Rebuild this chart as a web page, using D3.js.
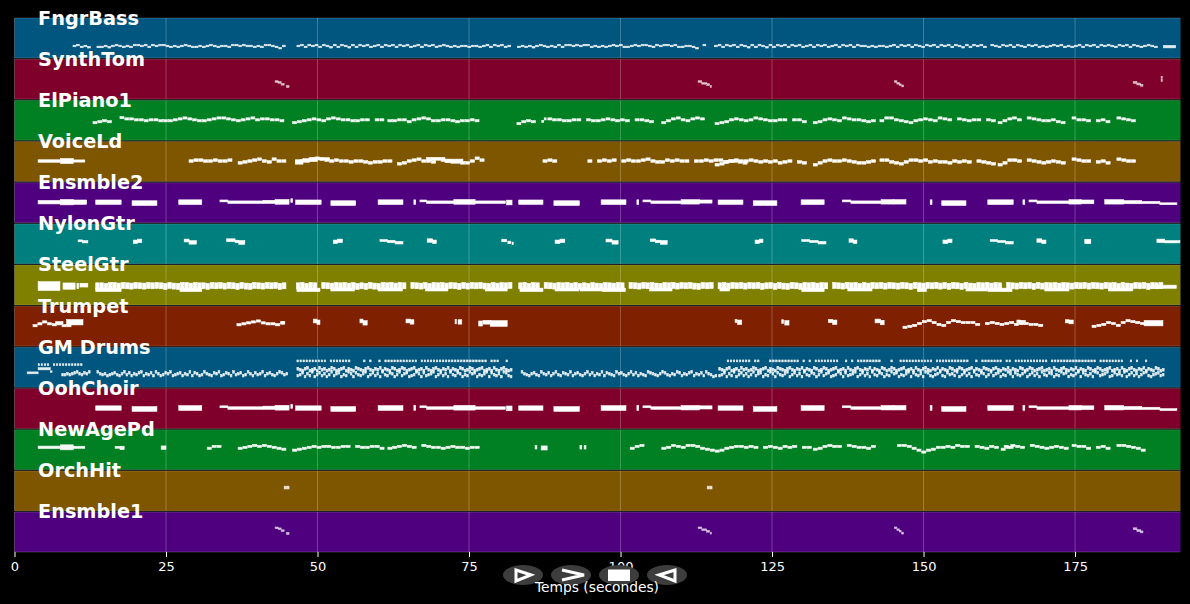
<!DOCTYPE html>
<html>
<head>
<meta charset="utf-8">
<script src="https://d3js.org/d3.v7.min.js"></script>
<style>
  html, body { margin: 0; background: #000; overflow: hidden; }
  text { font-family: "DejaVu Sans"; fill: #fff; }
</style>
</head>
<body>
<svg id="chart" width="1190" height="604"></svg>
<script>
// instrument rows, top to bottom
var trackNames = ["FngrBass", "SynthTom", "ElPiano1", "VoiceLd", "Ensmble2", "NylonGtr", "SteelGtr", "Trumpet", "GM Drums", "OohChoir", "NewAgePd", "OrchHit", "Ensmble1"];
var trackColors = ["#00567f", "#7f002a", "#007f23", "#7f5600", "#4f007f", "#007f7f", "#7f7f00", "#7f2100", "#00567f", "#7f002a", "#007f23", "#7f5600", "#4f007f"];
var trackOpacity = [0.9, 0.75, 0.95, 1, 1, 1, 1, 1, 0.9, 1, 0.95, 0.85, 0.75];
var timeTicks = [0, 25, 50, 75, 100, 125, 150, 175];
var xLabel = "Temps (secondes)";

// notes are [start, end, pitch, pitch span], runs are [start, step, pitches] (0 = rest)
var bassRuns = [
  [9.65, .6, [38,41,35,38,34]],
  [13.6, .6, [35,35,38,34,38,41,38,35,38,35,41,41,38,41,35,41,38,41,41,38,
              35,38,35,38,41,38,35,35,38,35,38,41,38,35,38,38,35,41,41,38,
              41,38,38,35,38,35,41,41,38,35,31,38]],
  [46.6, .6, [38,41,35,41,38,41,35,41,38,34,41,35,41,38,34,41,35,41,38,41,
              35,38,41,35,41,38,41,35,41,38,41,35,38,41,35,41,38,41,35,38,
              41,38,35,38,35,38,38,35,38,38,35,38,41,35,41,38,41,35,38]],
  [83, .6, [35,38,35,38,34,38,41,38,35,38,35,41,35,41,41,38,41,38,41,41,
            35,38,35,38,35,38,41,38,41,35,35,38,41,38,41,41,38,35,41,38,
            41,41,38,41,35,35,38,38,35,31,0,41]],
  [115.5, .6, [38,41,35,41,38,41,35,41,38,34,41,35,41,38,34,41,35,41,38,41,
               35,41,38,41,35,38,41,35,41,38,41,35,38,41,35,41,38,41,35,41,
               38,38,35,38,35,38,38,35,38,41,35,41,38,41,35,41,38,35,41,38,
               41,35,41,38,41,35,41,38,34,41,35,41,38,41,35,0,41,38,35,41,
               38,41,35,41,38,35,41,38,41,35,38,35,38,41,38,41,35,38,35,38,
               41,35,41,38,41,35,41,38,41,38,35,41,38,41,35,41,38,35,38,41,38,35]]
];
var bassNotes = [[189.6, 191.6, 36, 8]];

var synthTomNotes = [
  [43, 43.5, 56, 5], [43.5, 44, 53, 5], [44, 44.5, 47, 5], [44.9, 45.3, 40, 6],
  [112.8, 113.4, 56, 5], [113.4, 114.2, 50, 5], [114.2, 114.7, 46, 6], [114.8, 115, 40, 6],
  [145.2, 145.6, 56, 5], [145.6, 146, 50, 5], [146, 146.3, 46, 5], [146.4, 146.7, 42, 6],
  [184.6, 185.2, 53, 6], [185.2, 185.8, 48, 6], [185.8, 186.2, 44, 6],
  [189.2, 189.4, 69, 6], [189.2, 189.4, 59, 6]
];

var elPianoRuns = [
  [12.95, .8, [56,59,62,59]],
  [17.4, .8, [72,68,68,65,65,62,65,65,62,62,62,65,68,71,68,65,62,62,65,68,71,71,68,65,62,65,68,71,65,68,68,65,65,62]],
  [45.9, .8, [56,59,62,65,68,65,62,68,71,68,65,65,62,62,65,65,0,65,65]],
  [61.6, .8, [62,62,65,65,59,65,68,71,68,62,62,65,65,62,59,62,62,65,62]],
  [82.9, .8, [53,59,62,59]],
  [87, .4, [60,68]],
  [88, .8, [68,65,65,62,62,65,65,0,65,62,62,65,68,65,62,65,62,0,65,65,62,59]],
  [106.8, .8, [56,62,68,71,65,62,68,71,68]],
  [115.6, .8, [53,56,59,65,68,65,62,65,71,68,65,62,62,65,65,0,65,65,59]],
  [131.8, .8, [56,59,65,68,65,62,71,68,65,65,62,59,62]],
  [142.8, .8, [62,71,71,65,62,59,56,62,65,68,65,62,71,68,65,0,68,65,62,65,65,0,65,62]],
  [162.3, .8, [56,62,68,71,65,0,71,68,65,62,62,65,59,56]],
  [174.5, .8, [71,65,65,62,0,62,65,59]],
  [181.9, .8, [71,68,65,62]]
];

var voiceLeadRuns = [
  [28.8, .8, [65,68,68,65,65,68,65,65,68,0]],
  [36.9, .8, [59,62,65,68,71,65,62,71,65,65]],
  [46.4, .8, [62,65,65,71,74,71,68,65,68,65,65,62,65,65,62,59,62,62,65,65,
              0,56,59,65,68,71,65,65,62,0,68,65,62,62,59,59,65,74,68]],
  [87.2, .8, [65,68,65,0]],
  [94.6, .8, [65,0,65,68,65,68,0,65,68,65,65,68,71,65,62,62,68,65,68,65,65,0,65,65,68,65,68,68,62,65,65,62,59,0]],
  [115.6, .8, [53,56,62,65,68,65,65,68,65,62,65,62,65,59,62,65,0,62,59]],
  [131.8, .8, [53,59,65,68,65,65,68,65,62,59,59,62,65]],
  [142.8, .8, [68,68,62,59,56,62,68,68,65,68,62,65,62,62,59,65,62,65,62,0,65,62,59,56]],
  [162.3, .8, [53,59,68,68,65,0,68,65,62,59,62,65,62,59]],
  [174.5, .8, [71,68,65,65,0,62,65,59]],
  [181.9, .8, [71,68,65,65]]
];
var voiceLeadNotes = [
  [3.9, 7.6, 65, 8], [7.6, 9.7, 65, 16], [9.7, 11.6, 65, 7],
  [46.4, 47.6, 62, 14], [47.6, 50, 68, 9], [48.6, 52, 72, 7], [68, 71, 72, 9], [71, 74, 66, 10]
];

// pad bars played by both Ensmble2 and OohChoir
var padNotes = [
  [13.4, 17.6, 65, 14], [19.4, 23.5, 62, 15], [27.1, 30.9, 65, 15],
  [33.9, 35.2, 69, 6], [35.2, 41, 65, 8], [41, 43, 66, 10], [43, 45.3, 66, 15], [45.6, 45.9, 70, 12],
  [46.4, 50.6, 65, 14], [52.2, 56.3, 62, 15], [60, 64.1, 65, 15],
  [65.9, 66.2, 65, 15], [66.9, 68, 69, 6], [68, 72.5, 65, 8], [72.5, 76, 66, 15], [76, 81, 65, 8], [81.2, 82.1, 64, 15],
  [83.2, 87.2, 65, 14], [89, 93.2, 62, 15], [96.8, 100.9, 65, 15],
  [102.7, 103, 65, 15], [103.7, 105, 69, 6], [105, 110, 65, 8], [110, 113, 66, 14], [113, 115.1, 67, 10],
  [116.1, 120.2, 65, 14], [121.9, 125.8, 62, 15], [129.8, 133.6, 65, 15],
  [136.6, 138, 69, 6], [138, 143, 65, 8], [143, 145, 66, 14], [145, 147.1, 66, 14],
  [151.1, 151.4, 65, 15], [153, 157, 62, 15], [160.6, 164.8, 65, 15],
  [166.4, 166.7, 65, 15], [167.4, 168.7, 69, 6], [168.7, 174, 65, 8], [174, 176, 66, 14], [176, 178.1, 66, 12],
  [179.9, 183, 66, 14], [183, 186, 65, 10], [186, 189, 64, 7], [189, 191.8, 60, 6]
];
var ensmble2Intro = [[3.9, 7.6, 65, 11], [7.6, 9.7, 65, 17], [9.7, 11.9, 65, 14]];

var nylonNotes = [
  [10.5, 11.2, 73, 6], [11.2, 12.1, 70, 7],
  [19.6, 20.3, 70, 11], [20.3, 21, 73, 11],
  [28, 28.8, 74, 9], [28.8, 30, 68, 11],
  [35, 36.4, 75, 9], [36.4, 37, 71, 8], [37, 38, 68, 12],
  [52.6, 53.3, 70, 11], [53.3, 54.1, 73, 11],
  [60.3, 61.5, 74, 6], [61.5, 62.8, 71, 7], [62.8, 64.1, 67, 8],
  [68.1, 69, 74, 11], [69, 69.6, 70, 11],
  [80.4, 81.2, 74, 8], [81.4, 81.9, 68, 8], [82.1, 82.3, 65, 8],
  [89.2, 90, 70, 11], [90, 90.8, 73, 11],
  [97.6, 98.6, 74, 9], [98.6, 99.6, 68, 11],
  [104.9, 105.8, 75, 8], [105.8, 106.6, 71, 8], [106.6, 107.7, 68, 12],
  [122.2, 122.9, 70, 11], [122.9, 123.5, 73, 11],
  [129.9, 131.2, 74, 6], [131.2, 132.6, 71, 6], [132.6, 133.9, 67, 8],
  [137.7, 138.4, 74, 11], [138.4, 139, 70, 11],
  [153.2, 154, 70, 11], [154, 154.7, 73, 11],
  [161, 162.2, 74, 6], [162.2, 163.5, 71, 6], [163.5, 164.8, 67, 8],
  [168.7, 169.5, 74, 11], [169.5, 170.2, 70, 11],
  [176.6, 177.6, 71, 14],
  [188.5, 189.8, 73, 11], [189.8, 192.3, 70, 7]
];

var steelRuns = [
  [13.4, .7, [61,61,59,62,62,60,62,61,60,62,61,60,62,61,62,61,59,62,60,59,62,62,60,62,61,61,59,62,61,62,60,62,61,59,62,60,59,62,61,60,62,61,62,59,61,0]],
  [46.5, .7, [61,62,59,62,61,0,62,61,60,62,61,62,60,62,59,61,59,62,60,59,62,61,62,60,62,61,0,62,61,60,62,59,62,61,62,60,62,61,59,62,60,62,61,62,60,59,62,60,62,61,62]],
  [83.2, .7, [61,62,59,62,61,0,62,61,60,62,61,62,60,62,59,61,59,62,60,59,62,61,60,62,61,0,62,61,60,62,61,62,60,59,62,61,62,60,62,61,62,60,59,62,61,62]],
  [116.1, .7, [61,62,60,62,61,62,60,62,61,62,59,61,62,59,62,60,59,62,61,59,62,61,62,60,62,61,0,62,61,60,62,61,62,59,62,60,62,61,62,60,62,61,60,62,61,59,62,61,60,62,61,62,60,62,59,62,61,59,62,60,59,62,61,62,60,62,61,0,62,61,60,62,61,62,59,62,60,62,61,62,60,62,61,60,62,61,62,60,62,61,60,62,61,62,59,62,60,59,62,61,62,59,62,61,62]]
];
var steelNotes = [
  [3.9, 7.5, 60, 28], [8, 10, 60, 20], [10.3, 10.6, 60, 16], [10.8, 12.1, 63, 12],
  [13.4, 17.6, 48, 11], [27.3, 30.9, 48, 11], [46.6, 50.4, 48, 11], [52.2, 56.1, 49, 9], [60, 64, 49, 9],
  [67.8, 71.5, 49, 9], [77.7, 81.3, 49, 9], [83.4, 87.2, 48, 11], [89.2, 93.1, 49, 9], [93.3, 97.1, 49, 9],
  [97, 100.8, 48, 11], [104.8, 108.5, 49, 9], [116.4, 118, 49, 9], [129.9, 133.6, 48, 11], [137.5, 141.5, 49, 9],
  [149, 150.5, 48, 11], [157, 160.5, 49, 9], [160.6, 164.6, 48, 11], [170, 174, 49, 9], [180.5, 184.5, 49, 9],
  [187.5, 191.7, 58, 10]
];

var trumpetRuns = [
  [3.05, .8, [65,71,77,71,68,71,65,65]],
  [36.7, .8, [68,71,74,77,80,74,71,71,68,74]],
  [146.6, .8, [60,63,66,72,78,81,75,69,66,75,81,78,75,75,75,69,0,72,75,72,69,72,75,69,72,72,69,69,66]],
  [177.8, .8, [63,66,69,75,72,66,75,81,78,75,72]]
];
var trumpetNotes = [
  [6.8, 8, 74, 8], [8.6, 11.3, 76, 17],
  [44, 44.6, 74, 8],
  [49.3, 49.9, 80, 12], [49.9, 50.4, 76, 14],
  [57, 57.5, 80, 12], [57.5, 58.2, 74, 14],
  [64.6, 65.3, 80, 12], [65.3, 65.9, 77, 14],
  [72.7, 72.9, 78, 14], [73.2, 73.8, 77, 14],
  [76.6, 77.2, 72, 16], [77.3, 78.5, 76, 12], [78.5, 81.3, 72, 18],
  [118.9, 119.2, 80, 10], [119.3, 120, 76, 14],
  [126.6, 126.9, 78, 12], [127.1, 127.8, 74, 14],
  [134.3, 135, 80, 10], [135, 135.7, 76, 14],
  [142, 142.9, 80, 12], [142.9, 143.5, 75, 14],
  [165.4, 166, 78, 10], [166, 166.8, 76, 12],
  [173.4, 174, 79, 10], [174, 174.7, 77, 12],
  [186.4, 189.5, 73, 17]
];

// upper hi-hat ticks (0 = rest)
var hatRuns = [
  [3.9, .5, [72,72,72,72,0,72,72,72,72,72,72,72,72,72,72]],
  [46.6, .5, [84,84,84,84,84,84,84,84,84,84,0,84,84,84,84,84,84,84,0,0,0,0,84,0,84,0,0,84,0,84,84,84,84,84,84,84,84,84,84,84,0,84,84,84,84,84,84,84,84,84,84,84,84,84,84,84,84,84,84,84,84,84,84,0,84,84,84,0,0,84]],
  [117.6, .5, [84,84,84,84,84,84,84,84,0,84,84,0,0,0,84,84,84,84,84,84,84,84,84,84,0,84,0,84,0,84,84,84,84,84,84,84,84,0,0,84,0,84,0,84,84,84,84,84,84,84,84,0,0,0,84,0,0,84,84,84,84,84,84,84,84,84,84,84,0,84,84,84,84,84,84,84,84,84,84,84,0,0,84,0,84,84,84,84,84,84,84,0,84,84,0,84,84,84,84,84,84,84,84,84,84,84,0,84,84,84,84,84,84,84,84,84,84,84,84,84,84,84,0,84,84,84,84,84,84,84,84,0,0,84,0,84,0,0,84]]
];
var drumLowRuns = [
  [7.8, .4, [40,40,43,40,43,46,49,43,40,46,43,49]],
  [13.6, .4, [49,43,40,43,37,40,43,46,40,37,43,49,40,46,37,43,40,46,49,37,
              43,40,46,37,49,43,37,40,46,43,49,37,40,43,46,37,43,40,49,37,
              46,43,37,40,49,43,40,37,46,43,49,37,40,46,43,37,49,40,43,46,
              37,40,49,43,37,46,40,43,49,37,43,46,40,37,43,49,46,40,43]],
  [46.6, .4, [37,40,46,34,43,37,49,34,40,46,37,43,34,40,49,37,43,46,34,40,
              37,49,43,34,46,40,37,43,49,34,40,46,37,43,34,49,40,37,46,43,
              34,40,49,37,43,46,34,37,40,49,43,34,46,37,40,43,49,34,40,46,
              37,43,34,49,40,37,46,43,34,40,37,49,43,46,34,40,37,43,49,34,
              46,40,37,43,34,49,46,37,34]],
  [83.6, .4, [49,43,40,37,43,46,40,37,49,43,40,46,37,43,49,40,37,46,43,40,
              49,37,43,46,40,37,43,49,40,46,37,43,40,49,37,46,43,40,37,49,
              43,46,40,37,43,49,40,46,37,43,40,37,49,46,43,40,37,43,49,46,
              40,37,43,40,49,46,37,43,40,46,49,37,43,40,46,37,49,43,40,34,37]],
  [116.2, .4, [37,40,46,34,43,37,49,34,40,46,37,43,34,40,49,37,43,46,34,40,
               37,49,43,34,46,40,37,43,49,34,40,46,37,43,34,49,40,37,46,43,
               34,40,49,37,43,46,34,37,40,49,43,34,46,37,40,43,49,34,40,46,
               37,43,34,49,40,37,46,43,34,40,37,49,43,46,34,40,37,43,49,34,
               46,40,37,43,34,49,46,37,34,40,43,49,37,34,46,40,43,37,49,34,
               40,46,37,43,34,49,40,37,46,43,34,40,49,37,43,46,34,40,37,49,
               43,34,46,40,37,43,49,34,40,46,37,43,34,49,40,37,46,43,34,40,
               37,49,43,46,34,40,37,43,49,34,46,40,37,43,34,49,46,37,40,43,
               49,34,37,46,40,43,37,49,34,40,46,37,43,34,40,46,49,37,34,40,43,46,37,40]]
];
var drumHighRuns = [
  [46.6, .4, [59,56,53,59,62,53,56,59,53,62,56,59,53,56,62,59,53,56,59,62,
              53,59,56,53,62,59,56,53,59,62,56,53,59,56,62,53,59,56,53,62,
              59,53,56,62,59,53,56,59,62,53,56,59,53,62,56,53,59,62,56,53,
              59,56,62,53,59,56,53,62,59,53,56,62,59,53,56,59,62,53,56,59,
              53,62,56,53,59,62,56,53,56]],
  [116.2, .4, [59,56,53,59,62,53,56,59,53,62,56,59,53,56,62,59,53,56,59,62,
               53,59,56,53,62,59,56,53,59,62,56,53,59,56,62,53,59,56,53,62,
               59,53,56,62,59,53,56,59,62,53,56,59,53,62,56,53,59,62,56,53,
               59,56,62,53,59,56,53,62,59,53,56,62,59,53,56,59,62,53,56,59,
               53,62,56,53,59,62,56,53,59,56,62,53,59,56,53,62,59,53,56,62,
               59,53,56,59,62,53,59,56,53,62,59,56,53,59,62,56,53,59,56,62,
               53,59,56,53,62,59,53,56,62,59,53,56,59,62,53,56,59,53,62,56,
               53,59,62,56,53,59,56,62,53,59,56,53,62,59,53,56,62,59,53,56,
               59,62,53,56,59,53,62,56,53,59,62,56,53,59,56,62,53,59,56,53,62,59,53,56]]
];
var drumNotes = [[2.1, 3.9, 46, 6], [3.9, 5.9, 59, 7], [5.9, 6.2, 50, 5]];

var newAgeRuns = [
  [31.8, .8, [68,74,74]],
  [36.9, .8, [68,71,74,77,74,77,74,71,68,65]],
  [45.9, .8, [62,65,68,71,74,71,74,74,71,71,74,74,0,74,71,71,74,74,68]],
  [61.6, .8, [68,71,74,77,74,71,0,77,74,71,71,68,71,74,71,71,68,71,71]],
  [101.6, .8, [68,74,77]],
  [106.8, .8, [68,71,77,74,71,77,77,74,68,65,62,59,62,68,71,74,74]],
  [120.4, .8, [71,74,71,0,71,74,71,68,74,71,74,0,71,71]],
  [131.8, .8, [65,68,74,77,74,74,0,77,74,71,71,68,74]],
  [145.7, .8, [77,77,74,68,62,56,62,65,71,71,74,71,77,74,74,0,74,71,68,74,71,0,74,71]],
  [162.8, .8, [65,71,77,74,71,0,77,74,71,68,71,74,71,68]],
  [174.5, .8, [77,74,74,68,0,71,74,68]],
  [181.9, .8, [77,77,74,71,68,62]]
];
var newAgeNotes = [
  [3.9, 7.6, 71, 8], [7.6, 9.7, 71, 16], [9.7, 11.6, 71, 7],
  [16.6, 17.4, 71, 6], [17.4, 18.1, 69, 11], [24.2, 25, 70, 11],
  [85.9, 86.2, 71, 11], [86.9, 87.9, 69, 13], [93.3, 93.6, 71, 11], [94, 94.3, 71, 11]
];

var orchHitNotes = [
  [44.5, 44.85, 74, 9], [44.95, 45.3, 74, 9],
  [114.3, 114.65, 74, 9], [114.75, 115.1, 74, 9]
];
var ensmble1Notes = [
  [43, 43.5, 77, 5], [43.5, 44, 74, 5], [44, 44.5, 68, 5], [44.9, 45.3, 59, 6],
  [112.8, 113.4, 77, 5], [113.4, 114.2, 71, 5], [114.2, 114.7, 66, 6], [114.8, 115, 60, 6],
  [145.2, 145.6, 77, 5], [145.6, 146, 71, 5], [146, 146.3, 66, 5], [146.4, 146.7, 60, 6],
  [184.6, 185.2, 74, 6], [185.2, 185.8, 68, 6], [185.8, 186.2, 64, 6]
];

// expand a run into separate notes
function runsToNotes(runs, span, fill) {
    var notes = [];
    runs.forEach(function(run) {
        run[2].forEach(function(pitch, i) {
            if (pitch > 0) {
                notes.push([run[0] + i * run[1], run[0] + (i + fill) * run[1], pitch, span]);
            }
        });
    });
    return notes;
}

var trackNotes = [
    runsToNotes(bassRuns, 5, 0.8).concat(bassNotes),
    synthTomNotes,
    runsToNotes(elPianoRuns, 7, 0.82),
    runsToNotes(voiceLeadRuns, 8, 0.86).concat(voiceLeadNotes),
    ensmble2Intro.concat(padNotes),
    nylonNotes,
    runsToNotes(steelRuns, 19, 0.84).concat(steelNotes),
    runsToNotes(trumpetRuns, 7, 0.85).concat(trumpetNotes),
    runsToNotes(hatRuns, 6, 0.5).concat(runsToNotes(drumLowRuns, 8, 0.7), runsToNotes(drumHighRuns, 9, 0.75), drumNotes),
    padNotes,
    runsToNotes(newAgeRuns, 7, 0.86).concat(newAgeNotes),
    orchHitNotes,
    ensmble1Notes
];

var svg = d3.select("#chart");
svg.append("rect").attr("width", 1190).attr("height", 604).attr("fill", "#000");

var x = d3.scaleLinear().domain([0, 192.4]).range([14.5, 1180.5]);
var rows = d3.scaleBand().domain(trackNames).range([18, 552]).paddingInner(0.03);
var pitchScale = d3.scaleLinear().domain([0, 127]).range([rows.bandwidth(), 0]);

// one coloured panel per instrument
var panel = svg.selectAll("g.track").data(trackNames).enter().append("g")
    .attr("class", "track")
    .attr("transform", d => "translate(0," + rows(d) + ")");

panel.append("rect")
    .attr("x", x.range()[0])
    .attr("width", x.range()[1] - x.range()[0])
    .attr("height", rows.bandwidth())
    .attr("fill", (d, i) => trackColors[i]);

// thin light edge along the top and bottom of a panel
panel.selectAll("line.edge").data([0, rows.bandwidth()]).enter().append("line")
    .attr("class", "edge")
    .attr("x1", x.range()[0]).attr("x2", x.range()[1])
    .attr("y1", d => d).attr("y2", d => d)
    .attr("stroke", "#fff").attr("stroke-opacity", 0.3).attr("stroke-width", 0.6);

// vertical grid above the panels
panel.selectAll("line.grid").data(timeTicks).enter().append("line")
    .attr("class", "grid")
    .attr("x1", d => x(d)).attr("x2", d => x(d))
    .attr("y1", 0).attr("y2", rows.bandwidth())
    .attr("stroke", "#fff").attr("stroke-opacity", 0.3).attr("stroke-width", 0.8);

panel.selectAll("rect.note").data((d, i) => trackNotes[i]).enter().append("rect")
    .attr("class", "note")
    .attr("x", d => x(d[0]))
    .attr("width", d => x(d[1]) - x(d[0]))
    .attr("y", d => pitchScale(d[2] + d[3] / 2))
    .attr("height", d => pitchScale(d[2] - d[3] / 2) - pitchScale(d[2] + d[3] / 2))
    .attr("fill", "#fff")
    .attr("stroke", "#fff")
    .attr("stroke-width", 0.6);
panel.each(function(d, i) {
    d3.select(this).selectAll("rect.note").attr("opacity", trackOpacity[i]);
});

// instrument names sit across the top edge of each panel
svg.selectAll("text.name").data(trackNames).enter().append("text")
    .attr("class", "name")
    .attr("x", 38)
    .attr("y", (d, i) => 25 + i * 41.08)
    .attr("font-size", 19.3)
    .attr("font-weight", "bold")
    .text(d => d);

// x axis
var axis = d3.axisBottom(x).tickValues(timeTicks).tickSize(5).tickPadding(5);
var axisG = svg.append("g").attr("transform", "translate(0,552)").call(axis);
axisG.select(".domain").remove();
axisG.selectAll("line").attr("stroke", "#fff");
axisG.selectAll("text").attr("font-size", 13).attr("font-family", "DejaVu Sans");

// player buttons over the axis
var buttonX = [523, 571, 619, 667];
svg.selectAll("ellipse").data(buttonX).enter().append("ellipse")
    .attr("cx", d => d).attr("cy", 575).attr("rx", 20).attr("ry", 10)
    .attr("fill", "#3d3d3d");
var g = svg.append("g").attr("fill", "none").attr("stroke", "#fff").attr("stroke-width", 3);
g.append("path").attr("d", "M516,570 L531,575 L516,581 Z");
g.append("path").attr("d", "M562,570 L584,575 L562,580");
g.append("rect").attr("x", 608).attr("y", 569.5).attr("width", 22).attr("height", 11.5).attr("fill", "#fff").attr("stroke", "none");
g.append("path").attr("d", "M675,570 L659,575 L675,581 Z");

svg.append("text")
    .attr("x", 597).attr("y", 592)
    .attr("text-anchor", "middle")
    .attr("font-size", 13.8)
    .text(xLabel);
</script>
</body>
</html>
